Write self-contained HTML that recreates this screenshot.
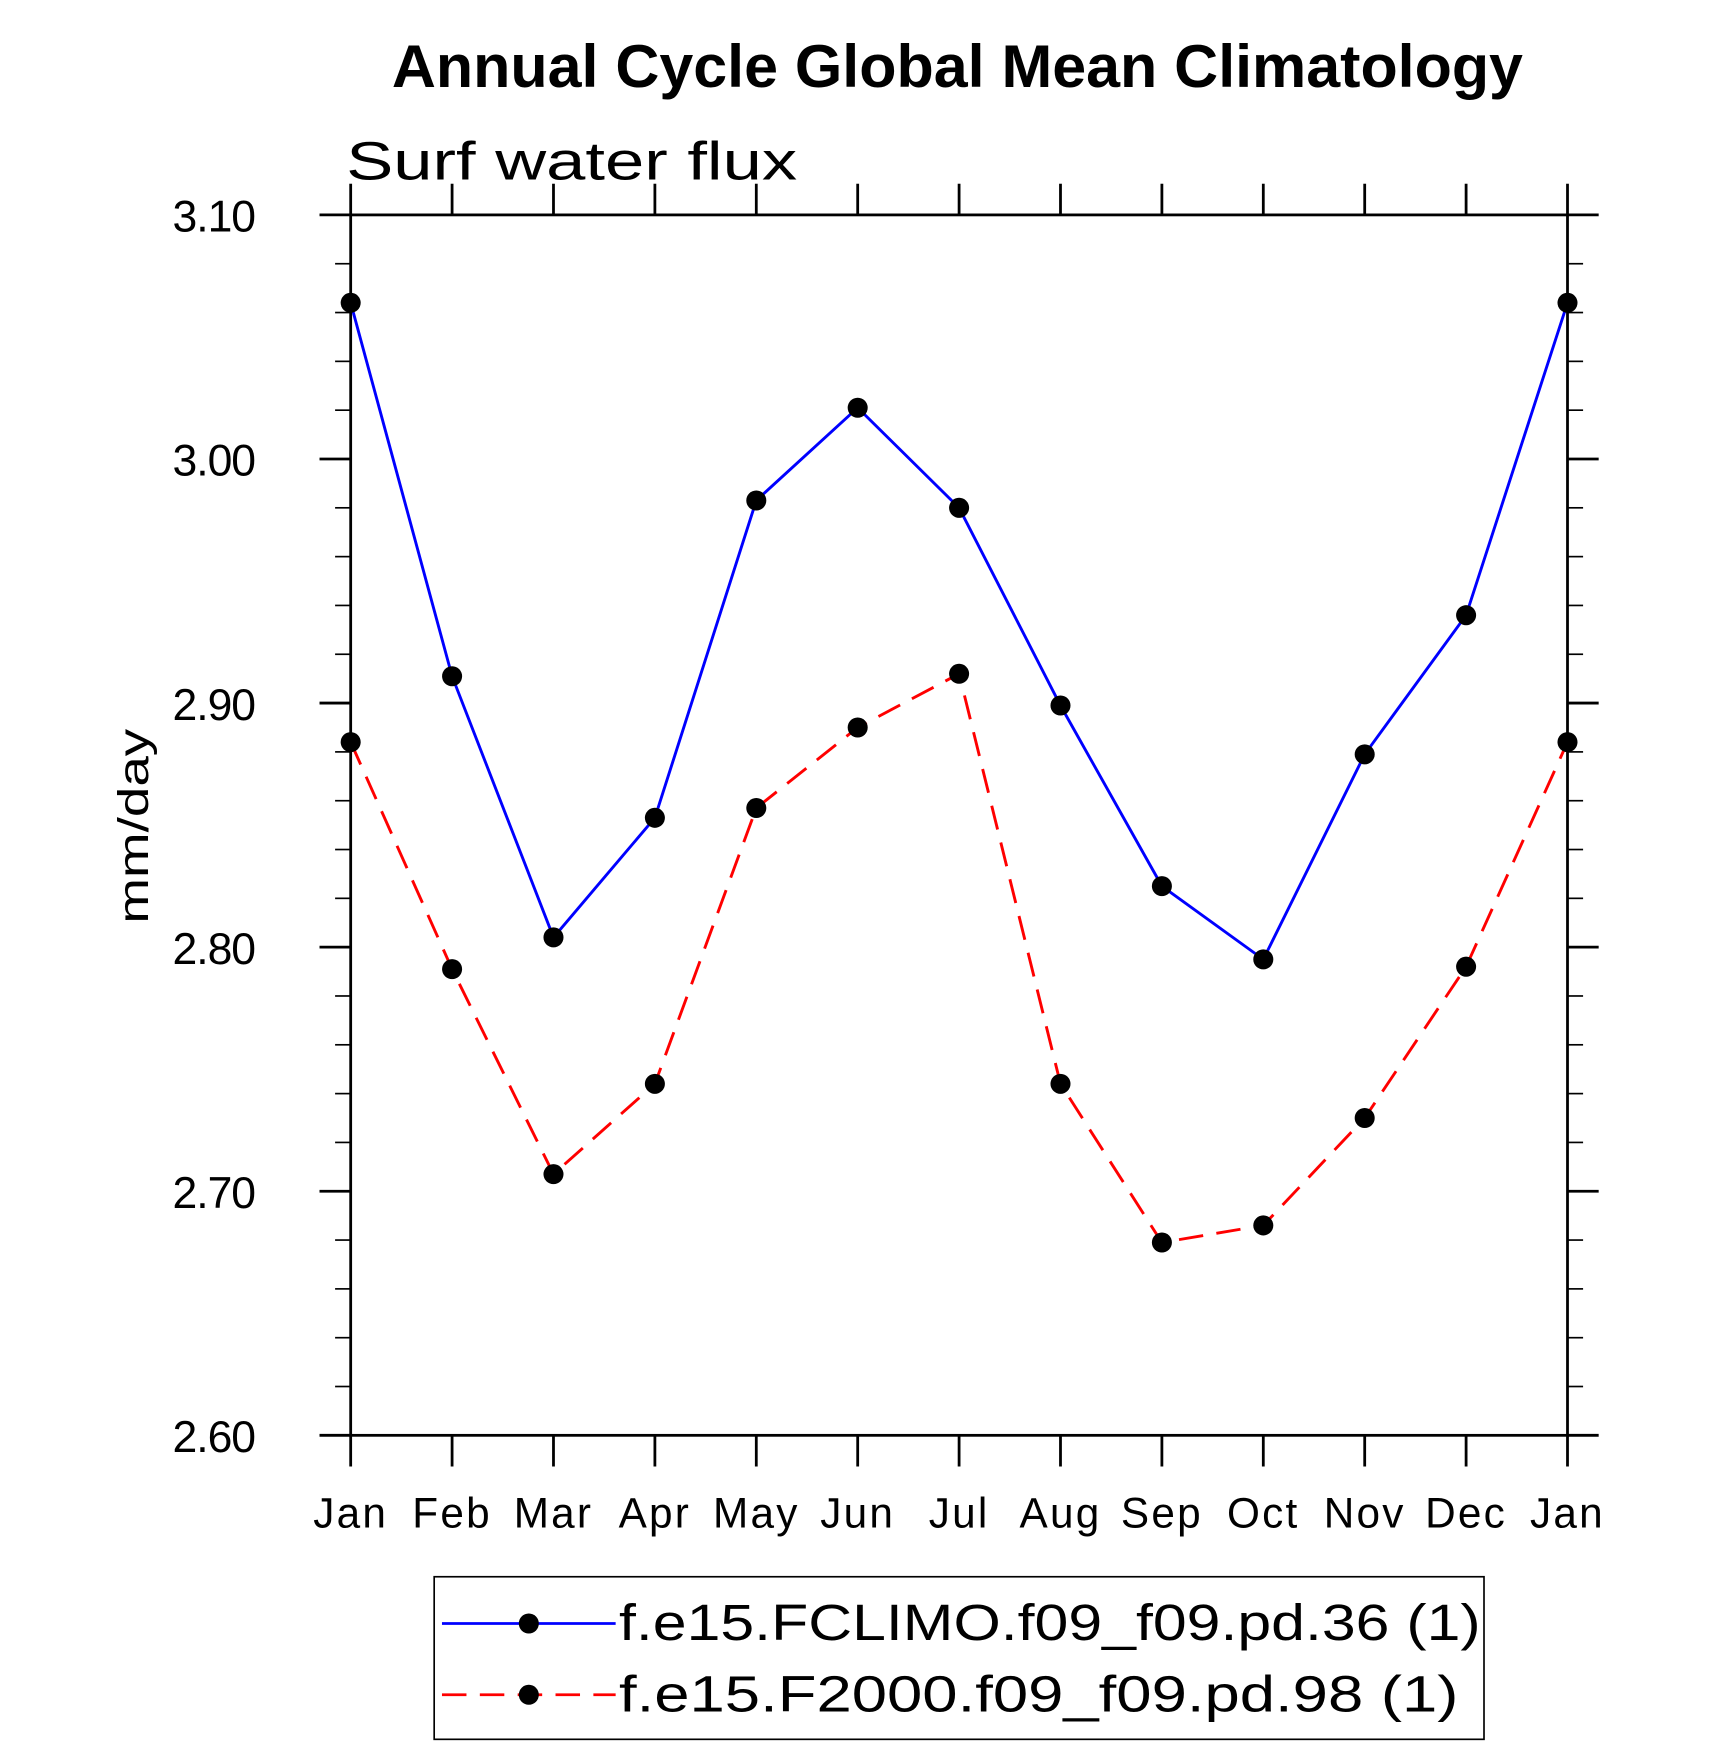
<!DOCTYPE html>
<html><head><meta charset="utf-8"><style>html,body{margin:0;padding:0;background:#fff}svg{display:block}</style></head>
<body>
<svg id="chart" width="1710" height="1746" viewBox="0 0 1536 1568" preserveAspectRatio="none" xmlns="http://www.w3.org/2000/svg" font-family="Liberation Sans, sans-serif">
<text x="352" y="78" font-size="54" font-weight="bold" textLength="1016" lengthAdjust="spacingAndGlyphs">Annual Cycle Global Mean Climatology</text>
<text x="311" y="161" font-size="48" textLength="405" lengthAdjust="spacingAndGlyphs">Surf  water  flux</text>
<text transform="translate(133,742) rotate(-90)" font-size="38" text-anchor="middle" textLength="175" lengthAdjust="spacingAndGlyphs">mm/day</text>
<g id="axes"></g>
<g id="series"></g>
<g>
<rect x="390" y="1416" width="943" height="146" fill="none" stroke="#000" stroke-width="1.5"/>
<g>
<line x1="397" y1="1458" x2="553" y2="1458" stroke="#0000ff" stroke-width="2.5"/>
<circle cx="475" cy="1458" r="9" fill="#000"/>
<text x="556" y="1473" font-size="46" textLength="774" lengthAdjust="spacingAndGlyphs">f.e15.FCLIMO.f09_f09.pd.36 (1)</text>
</g>
<g>
<line x1="397" y1="1522" x2="553" y2="1522" stroke="#ff0000" stroke-width="2.5" stroke-dasharray="22,12"/>
<circle cx="475" cy="1522" r="9" fill="#000"/>
<text x="556" y="1537" font-size="46" textLength="754" lengthAdjust="spacingAndGlyphs">f.e15.F2000.f09_f09.pd.98 (1)</text>
</g>
</g>
</svg>
<script>
const months = ["Jan","Feb","Mar","Apr","May","Jun","Jul","Aug","Sep","Oct","Nov","Dec","Jan"];
const fclimo = [3.064,2.911,2.804,2.853,2.983,3.021,2.980,2.899,2.825,2.795,2.879,2.936,3.064];
const f2000 = [2.884,2.791,2.707,2.744,2.857,2.890,2.912,2.744,2.679,2.686,2.730,2.792,2.884];
const yTicks = [2.60,2.70,2.80,2.90,3.00,3.10];
const yMin = 2.60, yMax = 3.10;
const L=315,R=1408,T=193,B=1289;
const NS="http://www.w3.org/2000/svg";
function xs(i){return L+(R-L)*i/(months.length-1);}
function ys(v){return B-(v-yMin)/(yMax-yMin)*(B-T);}
function mk(tag,attrs,parent){const e=document.createElementNS(NS,tag);for(const k in attrs)e.setAttribute(k,attrs[k]);parent.appendChild(e);return e;}
const ax=document.getElementById('axes');
const frame=mk('rect',{x:L,y:T,width:R-L,height:B-T,fill:'none',stroke:'#000','stroke-width':2.5},ax);


for(let v=yMin;v<=yMax+1e-9;v+=0.02){
  const y=ys(v);const major=Math.abs(Math.round(v*10)-v*10)<1e-6;
  const len=major?28:14;
  const t1=mk('line',{x1:L-len,y1:y,x2:L,y2:y,stroke:'#000','stroke-width':major?2.5:1.5},ax);
  
  
  const t2=mk('line',{x1:R,y1:y,x2:R+len,y2:y,stroke:'#000','stroke-width':major?2.5:1.5},ax);
  
  
}
yTicks.forEach(v=>{
  const t=mk('text',{x:155,y:ys(v)+15,'font-size':40,textLength:75,lengthAdjust:'spacing'},ax);
  t.textContent=v.toFixed(2);
  
  
});
months.forEach((m,i)=>{
  const x=xs(i);
  const a=mk('line',{x1:x,y1:B,x2:x,y2:B+28,stroke:'#000','stroke-width':2.5},ax);
  
  
  const b=mk('line',{x1:x,y1:T-28,x2:x,y2:T,stroke:'#000','stroke-width':2.5},ax);
  
  
  const t=mk('text',{x:x,y:1372,'font-size':38,'text-anchor':'middle','letter-spacing':'2'},ax);
  t.textContent=m;
  
  
});
const sg=document.getElementById('series');
function draw(vals,color,dash,name){
  const pts=vals.map((v,i)=>xs(i)+','+ys(v)).join(' ');
  const pl=mk('polyline',{points:pts,fill:'none',stroke:color,'stroke-width':2.6},sg);
  if(dash)pl.setAttribute('stroke-dasharray',dash);
  
  
  vals.forEach((v,i)=>{
    const c=mk('circle',{cx:xs(i),cy:ys(v),r:9,fill:'#000'},sg);
    
    
  });
}
draw(fclimo,'#0000ff',null,'fclimo');
draw(f2000,'#ff0000','22,12','f2000');
</script>
</body></html>
